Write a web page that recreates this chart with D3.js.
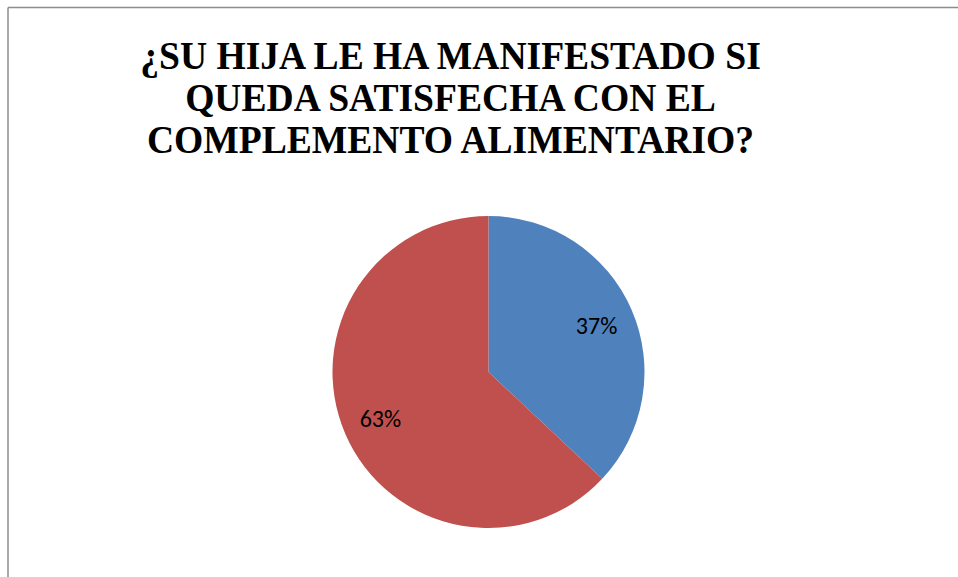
<!DOCTYPE html>
<html>
<head>
<meta charset="utf-8">
<script src="https://cdn.jsdelivr.net/npm/d3@7"></script>
<style>
  html, body { margin: 0; padding: 0; background: #fff; }
  svg { display: block; }
</style>
</head>
<body>
<svg id="chart" width="958" height="577"></svg>
<script>
const titleLines = ["¿SU HIJA LE HA MANIFESTADO SI", "QUEDA SATISFECHA CON EL", "COMPLEMENTO ALIMENTARIO?"];
const categories = ["Sí", "No"];
const values = [37, 63];
const colors = ["#4F81BD", "#C0504D"];

const svg = d3.select("#chart");
const W = 958, H = 577;

// frame (only top and left edges visible)
svg.append("line").attr("x1", 8).attr("y1", 7.5).attr("x2", W).attr("y2", 7.5)
  .attr("stroke", "#8c8c8c").attr("stroke-width", 1.5);
svg.append("line").attr("x1", 8).attr("y1", 7.5).attr("x2", 8).attr("y2", H)
  .attr("stroke", "#8c8c8c").attr("stroke-width", 1.5);

// title (horizontally condensed like the original rendering)
const tx = 450.5;
const title = svg.append("text")
  .attr("transform", `translate(${tx},0) scale(0.94,1)`)
  .attr("text-anchor", "middle")
  .attr("font-family", "'Liberation Serif', 'Times New Roman', serif")
  .attr("font-weight", "bold")
  .attr("font-size", 40)
  .attr("fill", "#000");
titleLines.forEach((t, i) => {
  title.append("tspan").attr("x", 0).attr("y", 69 + i * 41.8).text(t);
});

// pie
const cx = 488.5, cy = 372, r = 156;
const data = categories.map((c, i) => ({ cat: c, value: values[i], color: colors[i] }));
const pie = d3.pie().sort(null).value(d => d.value);
const arcs = pie(data);
const arc = d3.arc().innerRadius(0).outerRadius(r);
const g = svg.append("g").attr("transform", `translate(${cx},${cy})`);
g.selectAll("path").data(arcs).join("path")
  .attr("d", arc)
  .attr("fill", d => d.data.color);

const labelArc = d3.arc().innerRadius(r * 0.755).outerRadius(r * 0.755);
g.selectAll("text").data(arcs).join("text")
  .attr("transform", d => `translate(${labelArc.centroid(d)})`)
  .attr("text-anchor", "middle")
  .attr("dominant-baseline", "central")
  .attr("font-family", "Carlito, 'Open Sans', 'Liberation Sans', sans-serif")
  .attr("font-size", 24)
  .attr("fill", "#000")
  .text(d => d.data.value + "%");
</script>
</body>
</html>
